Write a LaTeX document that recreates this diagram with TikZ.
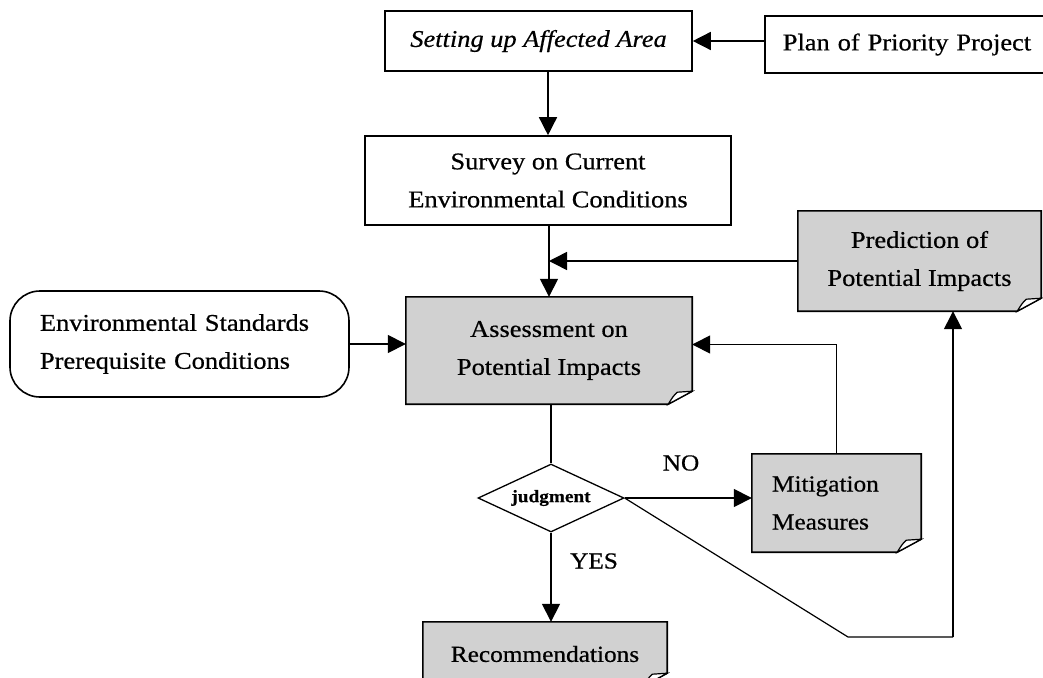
\documentclass[tikz,border=0pt]{standalone}
\usepackage{fontspec}
\setmainfont{Liberation Serif}[FakeStretch=1.1, FakeBold=0.6]
\usetikzlibrary{shapes.geometric,arrows.meta,backgrounds}
\definecolor{notegray}{gray}{0.82}
\tikzset{
  txt/.style={font=\fontsize{24}{38}\selectfont},
  plainbox/.style={txt, draw, line width=1.6pt, inner sep=0pt, align=center},
  notebox/.style={txt, inner sep=0pt, align=center},
  roundbox/.style={txt, draw, line width=1.6pt, rounded corners=30pt, inner ysep=0pt, align=left},
  decision/.style={diamond, draw, line width=1.3pt, inner sep=0pt, aspect=2.1, font=\fontsize{17.5}{20}\selectfont\bfseries},
  arr/.style={line width=1.5pt, -{Triangle[length=18pt,width=18pt]}},
  link/.style={line width=1.4pt},
  lbl/.style={font=\fontsize{23}{26}\selectfont},
}
\newcommand\foldbox[1]{%
  \filldraw[fill=notegray, line width=1.6pt] (#1.north west) -- (#1.north east) -- ([yshift=13pt]#1.south east) -- ([xshift=-24pt]#1.south east) -- (#1.south west) -- cycle;
  \filldraw[fill=white, line width=1.2pt] ([xshift=-24pt]#1.south east) .. controls ([xshift=-19pt,yshift=8pt]#1.south east) .. ([xshift=-15pt,yshift=12pt]#1.south east) -- ([yshift=13pt]#1.south east) -- cycle;
}
\begin{document}
\begin{tikzpicture}[x=1pt,y=1pt]
\useasboundingbox (0,0) rectangle (1043,-677);

\node[plainbox, minimum width=307pt, minimum height=60pt] (set) at (538.5,-41) {\itshape Setting up Affected Area};
\node[plainbox, anchor=west, minimum height=57pt, inner xsep=18pt, text width=270pt, align=left] (plan) at (764,-44.5) {Plan of Priority Project};
\node[plainbox, minimum width=366pt, minimum height=89pt] (survey) at (548,-180.5) {Survey on Current\\Environmental Conditions};
\node[notebox, minimum width=243pt, minimum height=100pt] (pred) at (919.5,-261) {Prediction of\\Potential Impacts};
\node[notebox, minimum width=286pt, minimum height=107pt] (assess) at (549,-350.5) {Assessment on\\Potential Impacts};
\node[roundbox, minimum width=339pt, minimum height=106pt, text width=279pt, inner xsep=30pt] (env) at (179.5,-344) {Environmental Standards\\Prerequisite Conditions};
\node[decision, minimum width=146pt, minimum height=68pt] (judg) at (551,-498) {judgment};
\node[notebox, minimum width=169pt, minimum height=98pt, text width=129pt, inner xsep=20pt, align=left, font=\fontsize{23}{38}\selectfont] (mit) at (836.5,-503) {Mitigation\\Measures};
\node[notebox, minimum width=244pt, minimum height=64pt, font=\fontsize{23}{26}\selectfont] (rec) at (545,-654) {Recommendations};

\begin{pgfonlayer}{background}
  \fill[white] (0,0) rectangle (1043,-677);
  \foldbox{pred}
  \foldbox{assess}
  \foldbox{mit}
  \foldbox{rec}
\end{pgfonlayer}

\coordinate (j) at (assess.north |- pred.west);
\coordinate (c1) at (848,-637);
\coordinate (c2) at (953,-637);

\draw[arr] (plan.west |- set.east) -- (set.east);
\draw[arr] (survey.north |- set.south) -- (survey.north);
\draw[arr] (assess.north |- survey.south) -- (assess.north);
\draw[arr] (pred.west) -- (j);
\draw[arr] (env.east) -- (env.east -| assess.west);
\draw[arr] (mit.north) |- ([yshift=6pt]assess.east);
\draw[link] (judg.north |- assess.south) -- (judg.north);
\draw[arr] (judg.east) -- (judg.east -| mit.west);
\draw[link, line width=1.2pt] (judg.east) -- (c1) -- (c2);
\draw[arr] (c2) -- (c2 |- pred.south);
\draw[arr] (judg.south) -- (judg.south |- rec.north);

\node[lbl] (no) at (681,-463) {NO};
\node[lbl] (yes) at (594,-561) {YES};
\end{tikzpicture}
\end{document}
